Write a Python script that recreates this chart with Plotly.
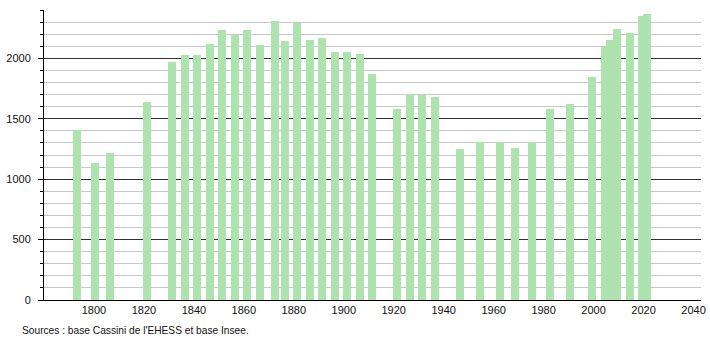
import plotly.graph_objects as go

years = [1793, 1800, 1806, 1821, 1831, 1836, 1841, 1846, 1851, 1856, 1861, 1866,
         1872, 1876, 1881, 1886, 1891, 1896, 1901, 1906, 1911, 1921, 1926, 1931,
         1936, 1946, 1954, 1962, 1968, 1975, 1982, 1990, 1999, 2004, 2006, 2009,
         2014, 2019, 2021]
population = [1408, 1137, 1214, 1636, 1972, 2025, 2027, 2122, 2236, 2194, 2236, 2108,
              2305, 2144, 2294, 2152, 2169, 2052, 2052, 2036, 1869, 1578, 1705, 1694,
              1677, 1253, 1305, 1305, 1261, 1305, 1578, 1619, 1842, 2094, 2152, 2244,
              2211, 2352, 2369]
x_ticks = [1800, 1820, 1840, 1860, 1880, 1900, 1920, 1940, 1960, 1980, 2000, 2020, 2040]
y_ticks = [0, 500, 1000, 1500, 2000]
source_text = "Sources : base Cassini de l'EHESS et base Insee."

FONT = "Liberation Sans, Arial, sans-serif"

fig = go.Figure()
fig.add_trace(go.Bar(
    x=years, y=population,
    width=3.2, offset=-1.2,
    marker=dict(color="rgb(174,226,174)", line=dict(width=0)),
    hoverinfo="x+y",
))

fig.update_layout(
    width=710, height=340,
    margin=dict(l=44, r=9, t=10, b=40),
    paper_bgcolor="white", plot_bgcolor="white",
    showlegend=False,
    bargap=0,
    font=dict(family=FONT, size=11, color="#111"),
    xaxis=dict(
        range=[1780, 2043], automargin=False,
        tickmode="array", tickvals=x_ticks, ticktext=[str(v) for v in x_ticks],
        showgrid=False, zeroline=False,
        showline=True, linecolor="black", linewidth=1,
        ticks="", tickfont=dict(family=FONT, size=11, color="#111"),
    ),
    yaxis=dict(
        range=[0, 2400], automargin=False,
        tickmode="array", tickvals=y_ticks, ticktext=[str(v) for v in y_ticks],
        showgrid=True, gridcolor="#333", gridwidth=1,
        zeroline=False,
        showline=True, linecolor="black", linewidth=1,
        ticks="outside", ticklen=5, tickcolor="black", tickwidth=1,
        ticklabelstandoff=5,
        tickfont=dict(family=FONT, size=11, color="#111"),
        minor=dict(dtick=100, tick0=0, showgrid=True, gridcolor="#c8c8c8", gridwidth=1,
                   ticks="outside", ticklen=3, tickcolor="black"),
    ),
    annotations=[dict(
        text=source_text, xref="paper", yref="paper",
        x=(20 - 44) / 657, y=-30 / 290, xanchor="left", yanchor="middle",
        showarrow=False, font=dict(family=FONT, size=10.2, color="#111"),
    )],
)

fig.write_html("out.html")
